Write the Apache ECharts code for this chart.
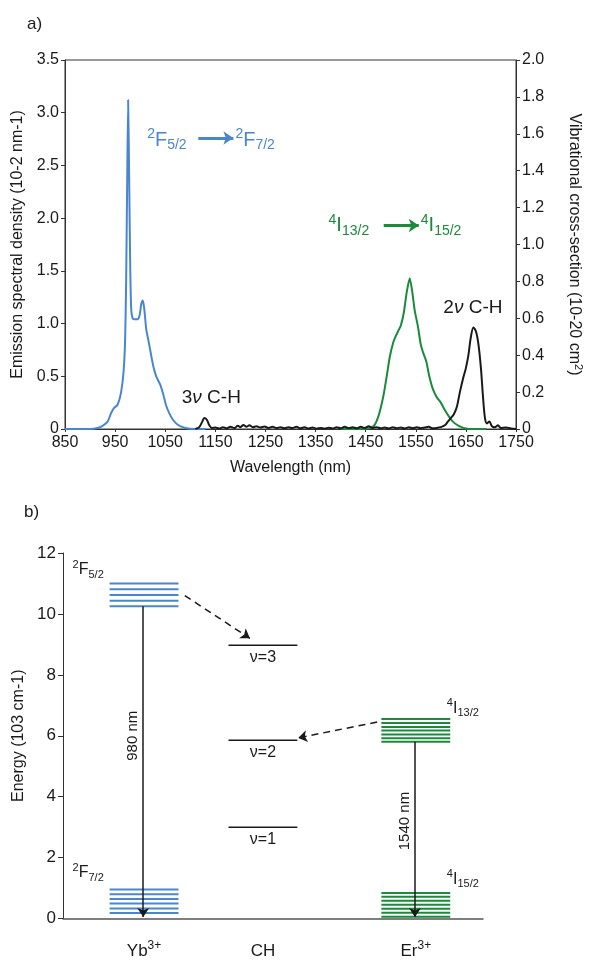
<!DOCTYPE html>
<html>
<head>
<meta charset="utf-8">
<script src="https://cdn.jsdelivr.net/npm/echarts@6/dist/echarts.min.js"></script>
<style>
  html, body { margin: 0; padding: 0; background: #fff; }
  #main { width: 592px; height: 960px; }
</style>
</head>
<body>
<div id="main"></div>
<script>
// ---- panel a: spectra ----
const ybEmission = [
  [850, 0], [900, 0], [915, 0.01], [925, 0.03], [935, 0.07], [942, 0.15], [948, 0.2], [955, 0.23],
  [962, 0.35], [967, 0.55], [970, 0.85], [972, 1.4], [974, 2.3], [976, 3.12], [978, 2.4], [980, 1.6],
  [982, 1.15], [985, 1.05], [990, 1.04], [995, 1.04], [999, 1.08], [1002, 1.18], [1005, 1.22],
  [1008, 1.15], [1012, 0.95], [1016, 0.85], [1020, 0.75], [1026, 0.6], [1032, 0.5], [1040, 0.42],
  [1046, 0.33], [1052, 0.22], [1058, 0.15], [1065, 0.09], [1075, 0.04], [1090, 0.01], [1110, 0], [1130, 0]
];
const erEmission = [
  [1400, 0], [1440, 0], [1460, 0.01], [1468, 0.04], [1474, 0.1], [1480, 0.2], [1486, 0.33], [1492, 0.5],
  [1498, 0.68], [1505, 0.82], [1510, 0.88], [1515, 0.93], [1520, 0.98], [1526, 1.1], [1532, 1.3],
  [1538, 1.43], [1543, 1.3], [1548, 1.12], [1554, 0.98], [1560, 0.8], [1565, 0.72], [1571, 0.64],
  [1577, 0.5], [1584, 0.38], [1592, 0.3], [1600, 0.25], [1608, 0.18], [1616, 0.12], [1624, 0.07],
  [1632, 0.04], [1640, 0.02], [1650, 0.005], [1665, 0], [1690, 0]
];
const chCrossSection = [
  [1110, 0], [1118, 0.01], [1124, 0.04], [1128, 0.06], [1133, 0.05], [1138, 0.02], [1143, 0.005],
  [1150, 0.008], [1158, 0.003], [1165, 0.01], [1172, 0.004], [1180, 0.012], [1188, 0.005], [1195, 0.018],
  [1200, 0.01], [1206, 0.022], [1212, 0.012], [1218, 0.02], [1225, 0.01], [1232, 0.015], [1240, 0.008],
  [1248, 0.013], [1256, 0.006], [1264, 0.012], [1272, 0.005], [1280, 0.01], [1288, 0.004], [1296, 0.009],
  [1304, 0.005], [1312, 0.012], [1320, 0.004], [1328, 0.01], [1336, 0.003], [1344, 0.008], [1352, 0.002],
  [1360, 0.006], [1368, 0.002], [1376, 0.007], [1384, 0.003], [1392, 0.01], [1400, 0.004], [1408, 0.012],
  [1416, 0.005], [1424, 0.009], [1432, 0.004], [1440, 0.012], [1448, 0.005], [1456, 0.015], [1464, 0.006],
  [1472, 0.01], [1480, 0.004], [1488, 0.008], [1496, 0.003], [1504, 0.009], [1512, 0.004], [1520, 0.008],
  [1528, 0.003], [1536, 0.009], [1544, 0.004], [1552, 0.01], [1560, 0.004], [1568, 0.008], [1576, 0.012],
  [1584, 0.004], [1592, 0.006], [1600, 0.01], [1608, 0.02], [1614, 0.04], [1620, 0.06], [1626, 0.08],
  [1632, 0.12], [1638, 0.2], [1644, 0.27], [1650, 0.33], [1655, 0.4], [1660, 0.5], [1665, 0.55],
  [1670, 0.53], [1675, 0.46], [1680, 0.33], [1684, 0.18], [1688, 0.06], [1692, 0.03], [1697, 0.04],
  [1702, 0.015], [1708, 0.01], [1714, 0.02], [1720, 0.005], [1730, 0.008], [1740, 0.003], [1750, 0]
];

// ---- panel b: energy levels (10^3 cm-1) ----
const ionNames = ['Yb', 'CH', 'Er'];
const ionCharges = ['3+', '', '3+'];
const ionX = [1.93, 4.76, 8.4];
const ybUpper = [11.0, 10.81, 10.62, 10.43, 10.25];
const ybLower = [0.95, 0.8, 0.64, 0.49, 0.33, 0.18];
const erUpper = [6.55, 6.42, 6.29, 6.17, 6.04, 5.92, 5.8];
const erLower = [0.84, 0.71, 0.58, 0.45, 0.32, 0.19, 0.06];
const chLevels = [3.0, 5.85, 8.97];
const chNames = ['ν=1', 'ν=2', 'ν=3'];

const BLUE = '#4a86d0';
const GREEN = '#1b8a3b';
const INK = '#1a1a1a';
const FONT = "'Liberation Sans', Arial, sans-serif";

const chart = echarts.init(document.getElementById('main'), null, { renderer: 'canvas' });

const levelRich = {
  b: { fontSize: 16, fontFamily: FONT, color: INK, lineHeight: 21 },
  sup: { fontSize: 11, fontFamily: FONT, color: INK, verticalAlign: 'top', lineHeight: 11 },
  sub: { fontSize: 11, fontFamily: FONT, color: INK, verticalAlign: 'bottom', lineHeight: 11 }
};
function transRich(color) {
  return {
    b: { fontSize: 20, fontFamily: FONT, color: color, lineHeight: 25 },
    sup: { fontSize: 14, fontFamily: FONT, color: color, verticalAlign: 'top', lineHeight: 14 },
    sub: { fontSize: 14, fontFamily: FONT, color: color, verticalAlign: 'bottom', lineHeight: 14 }
  };
}

// one level line per energy, centred on the ion column
function levelSeries(x, energies, color, width) {
  return {
    type: 'custom',
    xAxisIndex: 1,
    yAxisIndex: 2,
    silent: true,
    data: energies.map(e => [x, e]),
    renderItem: function (params, api) {
      const a = api.coord([api.value(0) - 0.82, api.value(1)]);
      const b = api.coord([api.value(0) + 0.82, api.value(1)]);
      return {
        type: 'line',
        shape: { x1: a[0], y1: a[1], x2: b[0], y2: b[1] },
        style: { stroke: color, lineWidth: width }
      };
    }
  };
}

function textSeries(xi, yi, items) {
  return {
    type: 'scatter',
    xAxisIndex: xi,
    yAxisIndex: yi,
    symbolSize: 0,
    silent: true,
    itemStyle: { opacity: 1 },
    data: items
  };
}

const cHRich = {
  n: { fontSize: 19, color: INK, fontFamily: FONT },
  i: { fontSize: 19, color: INK, fontFamily: FONT, fontStyle: 'italic' }
};

const option = {
  animation: false,
  backgroundColor: '#fff',
  textStyle: { fontFamily: FONT },
  graphic: [
    { type: 'text', left: 27, top: 16, style: { text: 'a)', font: '17px ' + FONT, fill: INK } },
    { type: 'text', left: 24, top: 504, style: { text: 'b)', font: '17px ' + FONT, fill: INK } }
  ],
  grid: [
    { left: 65, top: 60, width: 460, height: 369, show: true, borderColor: '#333', borderWidth: 1 },
    { left: 63, top: 553, width: 420, height: 370 }
  ],
  xAxis: [
    {
      type: 'value', gridIndex: 0, min: 850, max: 1750, interval: 100,
      name: 'Wavelength (nm)', nameLocation: 'middle', nameGap: 31,
      nameTextStyle: { fontSize: 16, color: INK },
      axisLine: { lineStyle: { color: '#333' } },
      axisTick: { show: true, length: 3, lineStyle: { color: '#333' } },
      axisLabel: { fontSize: 16, color: INK, margin: 6, formatter: v => String(v) },
      splitLine: { show: false }
    },
    {
      type: 'value', gridIndex: 1, min: 0, max: 10,
      axisLine: { lineStyle: { color: '#555', width: 1.5 } },
      axisTick: { show: false },
      splitLine: { show: false },
      axisLabel: {
        customValues: ionX,
        margin: 21,
        formatter: function (v) {
          const i = ionX.indexOf(v);
          return '{b|' + ionNames[i] + '}' + (ionCharges[i] ? '{sup|' + ionCharges[i] + '}' : '');
        },
        rich: {
          b: { fontSize: 17, fontFamily: FONT, color: INK, lineHeight: 24 },
          sup: { fontSize: 12, fontFamily: FONT, color: INK, verticalAlign: 'top', lineHeight: 12 }
        }
      }
    }
  ],
  yAxis: [
    {
      type: 'value', gridIndex: 0, min: 0, max: 3.5, interval: 0.5, position: 'left',
      name: 'Emission spectral density (10-2 nm-1)', nameLocation: 'middle', nameGap: 35,
      nameTextStyle: { fontSize: 16, color: INK },
      axisLine: { show: true, lineStyle: { color: '#333' } },
      axisTick: { show: true, length: 4, lineStyle: { color: '#333' } },
      axisLabel: { fontSize: 16, color: INK, margin: 6, formatter: v => v === 0 ? '0' : v.toFixed(1) },
      splitLine: { show: false }
    },
    {
      type: 'value', gridIndex: 0, min: 0, max: 2, interval: 0.2, position: 'right',
      name: '{t|Vibrational cross-section (10-20 cm}{s|2}{t|)}', nameLocation: 'middle', nameGap: 48,
      nameRotate: -90,
      nameTextStyle: {
        rich: {
          t: { fontSize: 16, color: INK, fontFamily: FONT, lineHeight: 20 },
          s: { fontSize: 11, color: INK, fontFamily: FONT, verticalAlign: 'top', lineHeight: 11 }
        }
      },
      axisLine: { show: true, lineStyle: { color: '#333' } },
      axisTick: { show: true, length: 4, lineStyle: { color: '#333' } },
      axisLabel: { fontSize: 16, color: INK, margin: 6, formatter: v => v === 0 ? '0' : v.toFixed(1) },
      splitLine: { show: false }
    },
    {
      type: 'value', gridIndex: 1, min: 0, max: 12, interval: 2,
      name: 'Energy (103 cm-1)', nameLocation: 'middle', nameGap: 30,
      nameTextStyle: { fontSize: 16, color: INK },
      axisLine: { show: true, lineStyle: { color: '#333' } },
      axisTick: { show: true, length: 5, lineStyle: { color: '#333' } },
      axisLabel: { fontSize: 17, color: INK, margin: 7 },
      splitLine: { show: false }
    }
  ],
  series: [
    // spectra
    {
      type: 'line', xAxisIndex: 0, yAxisIndex: 0, data: ybEmission, showSymbol: false, smooth: 0.2,
      lineStyle: { color: BLUE, width: 2 }, z: 3
    },
    {
      type: 'line', xAxisIndex: 0, yAxisIndex: 0, data: erEmission, showSymbol: false, smooth: 0.2,
      lineStyle: { color: GREEN, width: 2 }, z: 3
    },
    {
      type: 'line', xAxisIndex: 0, yAxisIndex: 1, data: chCrossSection, showSymbol: false, smooth: 0.3,
      lineStyle: { color: INK, width: 2 }, z: 4
    },
    // transition arrows in panel a
    {
      type: 'lines', coordinateSystem: 'cartesian2d', xAxisIndex: 0, yAxisIndex: 0,
      symbol: ['none', 'arrow'], symbolSize: 10, silent: true,
      lineStyle: { width: 3, opacity: 1 },
      data: [
        { coords: [[1116, 2.76], [1186, 2.76]], lineStyle: { color: BLUE } },
        { coords: [[1486, 1.93], [1556, 1.93]], lineStyle: { color: GREEN } }
      ]
    },
    textSeries(0, 0, [
      { value: [1014, 2.74], label: { show: true, position: 'inside', align: 'left', formatter: '{sup|2}{b|F}{sub|5/2}', rich: transRich(BLUE) } },
      { value: [1190, 2.74], label: { show: true, position: 'inside', align: 'left', formatter: '{sup|2}{b|F}{sub|7/2}', rich: transRich(BLUE) } },
      { value: [1376, 1.93], label: { show: true, position: 'inside', align: 'left', formatter: '{sup|4}{b|I}{sub|13/2}', rich: transRich(GREEN) } },
      { value: [1560, 1.93], label: { show: true, position: 'inside', align: 'left', formatter: '{sup|4}{b|I}{sub|15/2}', rich: transRich(GREEN) } },
      { value: [1142, 0.3], label: { show: true, position: 'inside', formatter: '{n|3}{i|ν}{n| C-H}', rich: cHRich } },
      { value: [1664, 1.15], label: { show: true, position: 'inside', formatter: '{n|2}{i|ν}{n| C-H}', rich: cHRich } }
    ]),

    // energy levels in panel b
    levelSeries(ionX[0], ybUpper, BLUE, 2),
    levelSeries(ionX[0], ybLower, BLUE, 2),
    levelSeries(ionX[2], erUpper, GREEN, 2),
    levelSeries(ionX[2], erLower, GREEN, 2),
    levelSeries(ionX[1], chLevels, INK, 1.5),
    {
      type: 'scatter', xAxisIndex: 1, yAxisIndex: 2, symbolSize: 0, silent: true,
      itemStyle: { opacity: 1 },
      data: chLevels.map((e, i) => ({ value: [ionX[1], e], name: chNames[i] })),
      label: { show: true, position: 'bottom', distance: 4, formatter: '{b}', fontSize: 16, color: INK }
    },
    // solid emission arrows and dashed energy-transfer arrows
    {
      type: 'lines', coordinateSystem: 'cartesian2d', xAxisIndex: 1, yAxisIndex: 2,
      symbol: ['none', 'arrow'], symbolSize: 9, silent: true,
      lineStyle: { color: INK, width: 1.5, opacity: 1 },
      data: [
        { coords: [[ionX[0] - 0.02, 10.25], [ionX[0] - 0.02, 0.05]] },
        { coords: [[ionX[2] - 0.02, 5.8], [ionX[2] - 0.02, 0.05]] },
        { coords: [[2.9, 10.6], [4.45, 9.2]], lineStyle: { type: [7, 5] } },
        { coords: [[7.48, 6.45], [5.6, 5.93]], lineStyle: { type: [7, 5] } }
      ]
    },
    textSeries(1, 2, [
      { value: [0.6, 11.45], label: { show: true, position: 'inside', formatter: '{sup|2}{b|F}{sub|5/2}', rich: levelRich } },
      { value: [0.6, 1.5], label: { show: true, position: 'inside', formatter: '{sup|2}{b|F}{sub|7/2}', rich: levelRich } },
      { value: [9.52, 6.9], label: { show: true, position: 'inside', formatter: '{sup|4}{b|I}{sub|13/2}', rich: levelRich } },
      { value: [9.52, 1.29], label: { show: true, position: 'inside', formatter: '{sup|4}{b|I}{sub|15/2}', rich: levelRich } },
      { value: [1.67, 6.0], label: { show: true, position: 'inside', rotate: 90, formatter: '980 nm', fontSize: 15, color: INK } },
      { value: [8.14, 3.2], label: { show: true, position: 'inside', rotate: 90, formatter: '1540 nm', fontSize: 15, color: INK } }
    ])
  ]
};

chart.setOption(option);
</script>
</body>
</html>
